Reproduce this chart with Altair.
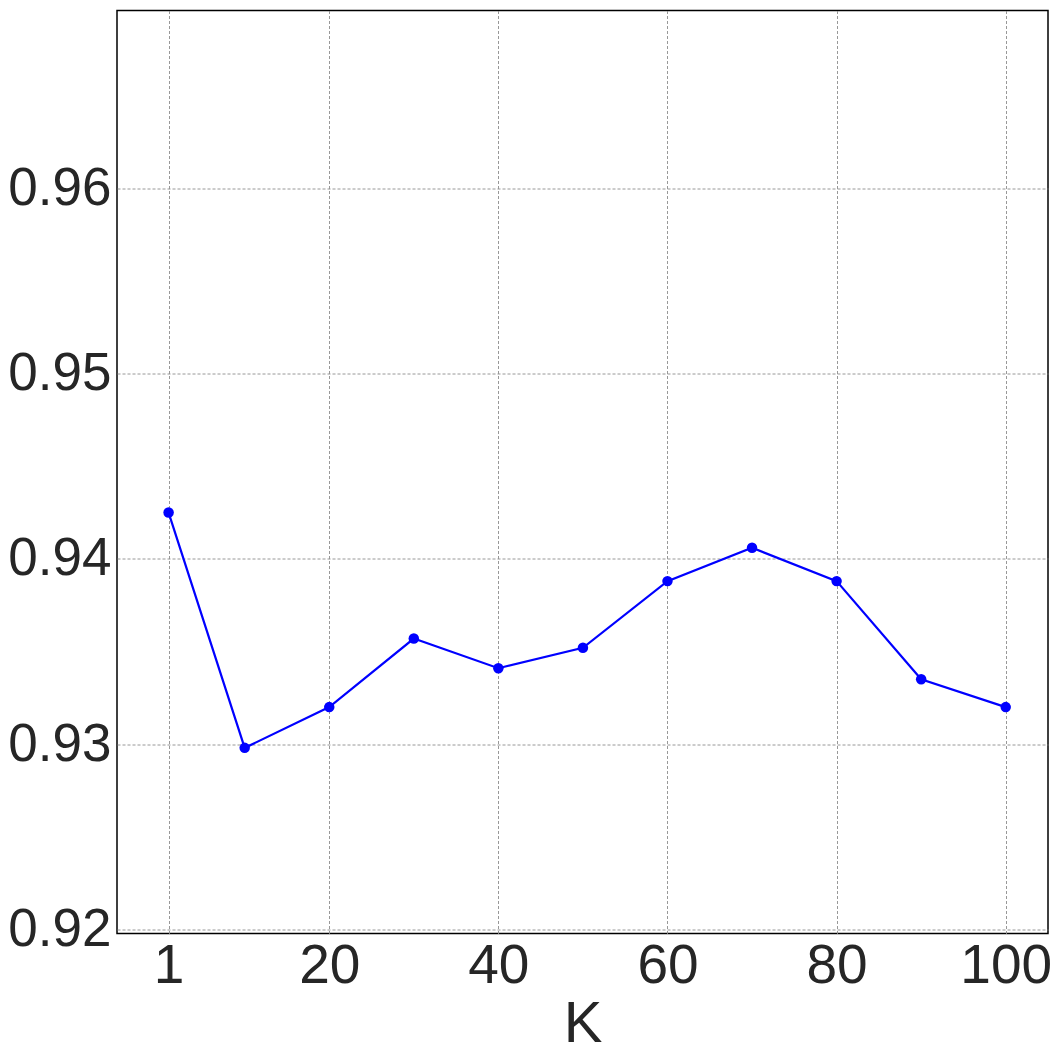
import altair as alt
import pandas as pd

k_values = [1, 10, 20, 30, 40, 50, 60, 70, 80, 90, 100]
scores = [0.9425, 0.9298, 0.9320, 0.9357, 0.9341, 0.9352, 0.9388, 0.9406, 0.9388, 0.9335, 0.9320]
x_ticks = [1, 20, 40, 60, 80, 100]
y_ticks = [0.92, 0.93, 0.94, 0.95, 0.96]

df = pd.DataFrame({"K": k_values, "score": scores})

x = alt.X("K:Q", title="K",
          scale=alt.Scale(domain=[-5.1, 105], nice=False, zero=False),
          axis=alt.Axis(values=x_ticks, labelPadding=6, titlePadding=2, labelFontSize=55))
y = alt.Y("score:Q", title=None,
          scale=alt.Scale(domain=[0.91978, 0.9696], nice=False, zero=False),
          axis=alt.Axis(values=y_ticks, format=".2f", labelPadding=6, labelFontSize=53))

base = alt.Chart(df)
line = base.mark_line(color="#0000FF", strokeWidth=2.2).encode(x=x, y=y)
pts = base.mark_point(color="#0000FF", filled=True, size=110, opacity=1).encode(x=x, y=y)

chart = (line + pts).properties(
    width=931, height=923,
    autosize="none",
    padding={"left": 109, "top": 2.5, "right": 5, "bottom": 120},
).configure_view(
    stroke="black", strokeWidth=1.5
).configure_axis(
    labelFont="Liberation Sans", titleFont="Liberation Sans",
    titleFontSize=58, titleFontWeight="normal",
    labelColor="#262626", titleColor="#262626",
    ticks=False, domain=False,
    grid=True, gridColor="#8c8c8c", gridDash=[3, 2], gridWidth=0.9, gridOpacity=1,
)

chart.save("out.html", embed_options={"renderer": "svg", "actions": False})
